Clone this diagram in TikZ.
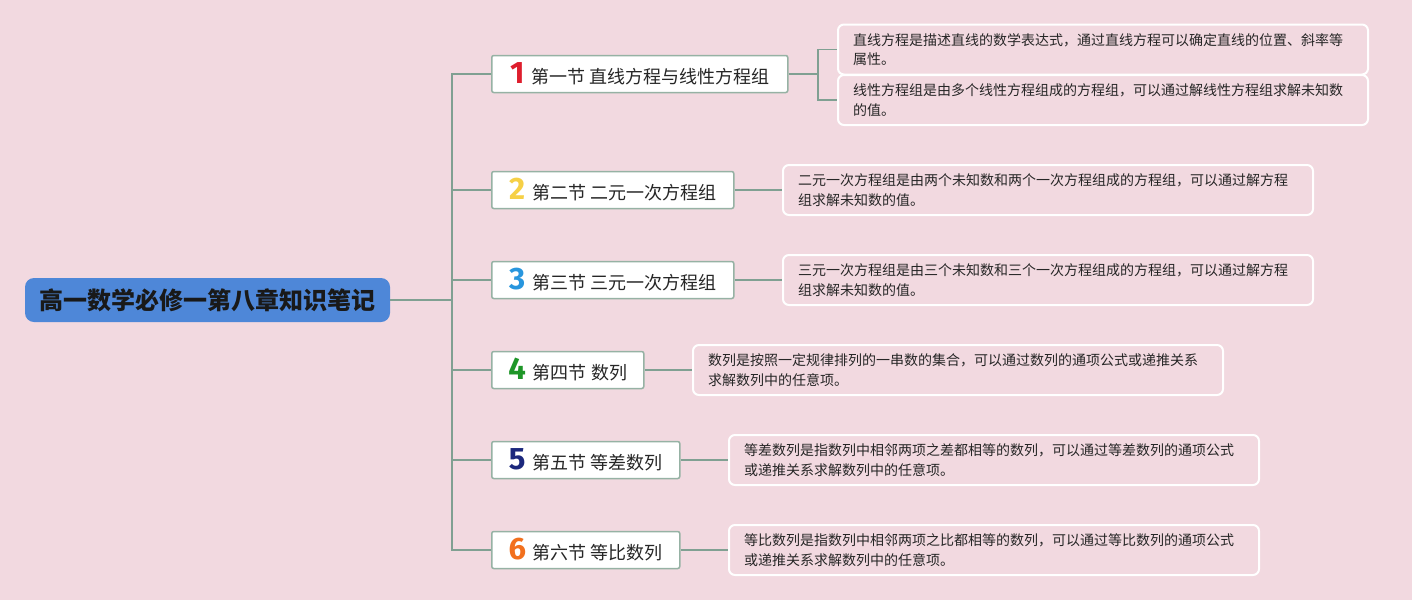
\documentclass[tikz,border=0pt]{standalone}
\usepackage{fontspec}
\setmainfont{Noto Sans CJK SC}
\newfontfamily\numfont{Fira Sans}
\definecolor{bg}{RGB}{242,217,224}
\definecolor{rootblue}{RGB}{78,135,216}
\definecolor{secborder}{RGB}{150,178,164}
\definecolor{conncol}{RGB}{128,160,146}
\definecolor{nA}{RGB}{222,30,45}
\definecolor{nB}{RGB}{246,208,70}
\definecolor{nC}{RGB}{40,150,222}
\definecolor{nD}{RGB}{30,150,40}
\definecolor{nE}{RGB}{28,40,125}
\definecolor{nF}{RGB}{242,112,30}
\newcommand\secnum[2]{{\numfont\bfseries\fontsize{31}{31}\selectfont\color{#1}#2}\hspace{7pt}}
\begin{document}
\begin{tikzpicture}[x=1pt,y=-1pt,
  rootbox/.style={fill=rootblue, rounded corners=9pt, minimum width=365pt, minimum height=44pt, inner sep=0pt, font=\fontsize{24}{28}\selectfont\bfseries, text=black!90},
  secbox/.style={draw=secborder, line width=1.5pt, fill=white, rounded corners=2pt, minimum height=37pt, inner sep=0pt, font=\fontsize{18}{20}\selectfont, text=black!85, anchor=west},
  leafbox/.style={draw=white, line width=2pt, rounded corners=6pt, text width=500pt, inner xsep=15pt, inner ysep=0pt, minimum height=50pt, align=left, font=\fontsize{14}{19.5}\selectfont, text=black!85, anchor=west},
  conn/.style={draw=conncol, line width=1.5pt}]
\fill[bg] (0,0) rectangle (1412,600);
\useasboundingbox (0,0) rectangle (1412,600);

\node[rootbox] (root) at (207.5,300) {高一数学必修一第八章知识笔记};

\node[secbox, minimum width=296pt] (s1) at (491,74) {\secnum{nA}{1}第一节 直线方程与线性方程组};
\node[secbox, minimum width=242pt] (s2) at (491,190) {\secnum{nB}{2}第二节 二元一次方程组};
\node[secbox, minimum width=242pt] (s3) at (491,280) {\secnum{nC}{3}第三节 三元一次方程组};
\node[secbox, minimum width=152pt] (s4) at (491,370) {\secnum{nD}{4}第四节 数列};
\node[secbox, minimum width=188pt] (s5) at (491,460) {\secnum{nE}{5}第五节 等差数列};
\node[secbox, minimum width=188pt] (s6) at (491,550) {\secnum{nF}{6}第六节 等比数列};

\node[leafbox] (l1a) at (837,49.5) {直线方程是描述直线的数学表达式，通过直线方程可以确定直线的位置、斜率等\\属性。};
\node[leafbox] (l1b) at (837,100) {线性方程组是由多个线性方程组成的方程组，可以通过解线性方程组求解未知数\\的值。};
\node[leafbox] (l2) at (782,190) {二元一次方程组是由两个未知数和两个一次方程组成的方程组，可以通过解方程\\组求解未知数的值。};
\node[leafbox] (l3) at (782,280) {三元一次方程组是由三个未知数和三个一次方程组成的方程组，可以通过解方程\\组求解未知数的值。};
\node[leafbox] (l4) at (692,370) {数列是按照一定规律排列的一串数的集合，可以通过数列的通项公式或递推关系\\求解数列中的任意项。};
\node[leafbox] (l5) at (728,460) {等差数列是指数列中相邻两项之差都相等的数列，可以通过等差数列的通项公式\\或递推关系求解数列中的任意项。};
\node[leafbox] (l6) at (728,550) {等比数列是指数列中相邻两项之比都相等的数列，可以通过等比数列的通项公式\\或递推关系求解数列中的任意项。};

\coordinate (trunk) at (452,300);
\coordinate (b1) at (818,74);

\draw[conn] (root.east) -- (trunk);
\foreach \s in {s1,s2,s3,s4,s5,s6} \draw[conn] (trunk) |- (\s.west);
\draw[conn] (s1.east) -- (b1);
\draw[conn] (b1) |- (l1a.west);
\draw[conn] (b1) |- (l1b.west);
\draw[conn] (s2.east) -- (l2.west);
\draw[conn] (s3.east) -- (l3.west);
\draw[conn] (s4.east) -- (l4.west);
\draw[conn] (s5.east) -- (l5.west);
\draw[conn] (s6.east) -- (l6.west);
\end{tikzpicture}
\end{document}
